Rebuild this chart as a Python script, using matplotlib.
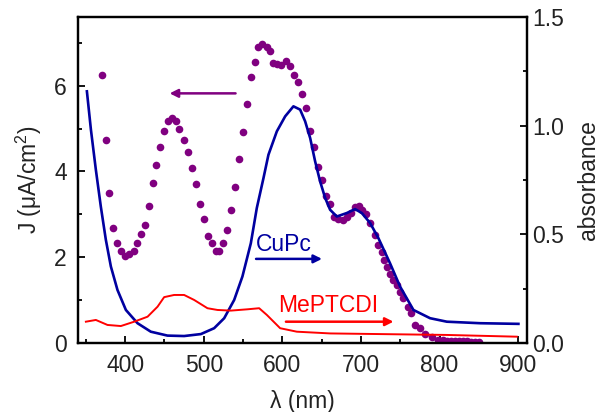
import numpy as np
import matplotlib
matplotlib.use('Agg')
import matplotlib.pyplot as plt
from matplotlib.ticker import MultipleLocator, FormatStrFormatter

plt.rcParams['font.family'] = ['Liberation Sans', 'DejaVu Sans']
plt.rcParams['mathtext.fontset'] = 'custom'
plt.rcParams['mathtext.rm'] = 'Liberation Sans'
plt.rcParams['mathtext.it'] = 'Liberation Sans'

# photocurrent J (left axis), purple dots
wl_j = [370.4, 375.4, 380, 384.7, 390, 394.5, 400, 405.5, 410.6, 414.8, 420, 425,
        430.5, 435, 439.8, 444.5, 450, 454.3, 459.4, 464.5, 469, 475, 479.8, 484.9,
        490, 494.6, 500.1, 505.2, 510.7, 515.4, 520, 525, 530.2, 535.2, 540, 545.4,
        550.5, 554.8, 560, 564.6, 569.6, 574.7, 580.3, 584.8, 588, 593, 598, 604.8,
        609.9, 615, 620, 624.8, 630.3, 635.8, 640.8, 645.2, 650.2, 655.3, 660.8,
        665.9, 671.4, 677, 682, 687.1, 692.6, 697.3, 701.5, 706, 711.7, 718.1,
        722.3, 726.6, 729.5, 732.9, 737.1, 741.3, 745.7, 749.9, 754.1, 759.7, 763.9,
        769, 775.3, 781.7, 790.2, 798.6, 805, 810, 815, 820, 825, 830, 835, 840,
        845, 850]
j_vals = [6.25, 4.74, 3.50, 2.69, 2.32, 2.15, 2.02, 2.08, 2.14, 2.32, 2.53, 2.75,
          3.19, 3.73, 4.14, 4.58, 4.94, 5.17, 5.25, 5.17, 4.98, 4.74, 4.46, 4.08,
          3.70, 3.25, 2.88, 2.50, 2.32, 2.15, 2.15, 2.32, 2.63, 3.09, 3.63, 4.28,
          4.91, 5.57, 6.19, 6.54, 6.89, 6.98, 6.89, 6.80, 6.53, 6.50, 6.48, 6.57,
          6.45, 6.24, 6.08, 5.81, 5.48, 4.95, 4.58, 4.10, 3.81, 3.43, 3.23,
          2.94, 2.88, 2.86, 2.94, 3.03, 3.16, 3.19, 3.09, 3.00, 2.79, 2.51,
          2.28, 2.12, 1.93, 1.77, 1.62, 1.47, 1.35, 1.19, 1.04, 0.84, 0.69,
          0.42, 0.34, 0.22, 0.15, 0.07, 0.06, 0.05, 0.05, 0.045, 0.04, 0.04, 0.035, 0.03,
          0.03, 0.03]

# CuPc absorbance (right axis), blue line
wl_cupc = [351.3, 356.4, 362.7, 369, 375.4, 381.8, 390.2, 400.9, 415.7, 432.6, 453.8,
           475, 496.3, 513.2, 526, 538.7, 549.2, 559.9, 567.5, 576, 582.3, 593, 603.6,
           614.1, 622.6, 629, 635.4, 641.7, 648.1, 654.5, 660.8, 669.3, 682, 692.6,
           701.1, 711.7, 722.3, 737, 749.9, 766.8, 788, 809.3, 851.6, 900.4]
abs_cupc = [1.158, 0.982, 0.797, 0.628, 0.475, 0.352, 0.244, 0.152, 0.091, 0.052, 0.034,
            0.032, 0.041, 0.068, 0.114, 0.198, 0.306, 0.459, 0.621, 0.759, 0.866, 0.974,
            1.043, 1.089, 1.074, 1.020, 0.943, 0.836, 0.743, 0.667, 0.613, 0.582, 0.598,
            0.616, 0.598, 0.552, 0.482, 0.367, 0.259, 0.152, 0.114, 0.098, 0.091, 0.088]

# MePTCDI absorbance (right axis), red line
wl_me = [350, 362.7, 377.5, 394.5, 411.5, 428.5, 441.2, 449.6, 462.3, 475, 487.8, 504.7,
         517.4, 534.4, 555.6, 570.5, 580.3, 597.2, 618.4, 660.8, 724.4, 809.3, 898.3]
abs_me = [0.098, 0.106, 0.083, 0.078, 0.098, 0.121, 0.167, 0.211, 0.221, 0.221, 0.198,
          0.16, 0.152, 0.149, 0.155, 0.16, 0.129, 0.068, 0.052, 0.044, 0.041, 0.037, 0.029]

purple = '#800080'
blue = '#0000a0'
red = '#ff0000'
fs = 16.5

fig = plt.figure(figsize=(6.02, 4.12), dpi=100)
ax = fig.add_axes([0.1296, 0.1675, 0.7454, 0.7912])
ax2 = ax.twinx()

ax.plot(wl_j, j_vals, 'o', color=purple, markersize=5.5, markeredgewidth=0)
ax2.plot(wl_cupc, abs_cupc, '-', color=blue, lw=1.9)
ax2.plot(wl_me, abs_me, '-', color=red, lw=1.4)

ax.set_xlim(340, 911)
ax.set_ylim(0, 7.6)
ax2.set_ylim(0, 1.5)

ax.xaxis.set_major_locator(MultipleLocator(100))
ax.xaxis.set_minor_locator(MultipleLocator(50))
ax.yaxis.set_major_locator(MultipleLocator(2))
ax.yaxis.set_minor_locator(MultipleLocator(1))
ax2.yaxis.set_major_locator(MultipleLocator(0.5))
ax2.yaxis.set_minor_locator(MultipleLocator(0.25))
ax2.yaxis.set_major_formatter(FormatStrFormatter('%.1f'))

ax.tick_params(axis='both', which='both', direction='in', top=False, right=False,
               labelsize=fs, width=1.3, colors='black', labelcolor='#222222')
ax.tick_params(which='major', length=5)
ax.tick_params(which='minor', length=3)
ax.tick_params(axis='x', pad=8)
ax.tick_params(axis='y', pad=8)
ax2.tick_params(axis='y', which='both', direction='in', labelsize=fs, width=1.3,
                pad=4, labelcolor='#222222')
ax2.tick_params(which='major', length=5)
ax2.tick_params(which='minor', length=3)

for a in (ax, ax2):
    for s in a.spines.values():
        s.set_linewidth(1.6)

ax.set_xlabel('λ (nm)', fontsize=fs, color='#222222', labelpad=9)
ax.set_ylabel('J (μA/cm$^2$)', fontsize=fs, color='#222222', labelpad=7)
ax2.set_ylabel('absorbance', fontsize=fs, color='#222222', labelpad=9)

# annotations
ax.annotate('', xy=(453, 5.82), xytext=(544, 5.82),
            arrowprops=dict(arrowstyle='-|>', color=purple, lw=1.8, mutation_scale=12))
ax2.text(566, 0.424, 'CuPc', color=blue, fontsize=fs, ha='left', va='baseline')
ax2.annotate('', xy=(654, 0.387), xytext=(563, 0.387),
             arrowprops=dict(arrowstyle='-|>', color=blue, lw=1.8, mutation_scale=12))
ax2.text(595, 0.141, 'MePTCDI', color=red, fontsize=fs, ha='left', va='baseline')
ax2.annotate('', xy=(745, 0.098), xytext=(601, 0.098),
             arrowprops=dict(arrowstyle='-|>', color=red, lw=1.8, mutation_scale=12))

fig.savefig('out.png', dpi=100)
